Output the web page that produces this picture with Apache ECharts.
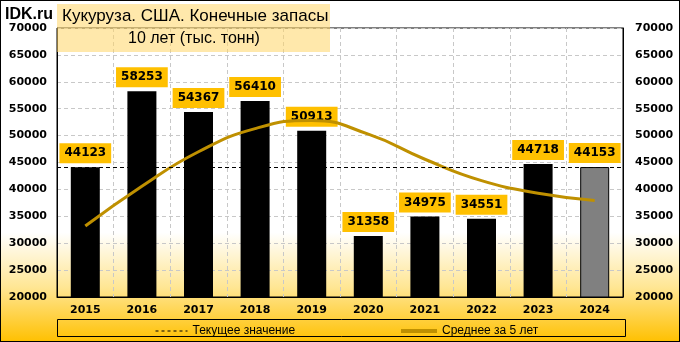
<!DOCTYPE html>
<html><head><meta charset="utf-8">
<script src="https://cdn.jsdelivr.net/npm/echarts@6/dist/echarts.min.js"></script>
<style>
html,body{margin:0;padding:0;}
#wrap{position:relative;width:680px;height:342px;background:linear-gradient(180deg,#ffffff 0%,#ffffff 68%,#FFE694 84%,#FFC000 100%);}
#chart{position:absolute;left:0;top:0;width:680px;height:342px;}
#frame{position:absolute;left:0;top:0;width:680px;height:342px;box-sizing:border-box;border:1px solid #000;pointer-events:none;}
</style></head>
<body>
<div id="wrap"><div id="chart"></div><div id="frame"></div></div>
<script>
const years = ['2015','2016','2017','2018','2019','2020','2021','2022','2023','2024'];
const stocks = [44123, 58253, 54367, 56410, 50913, 31358, 34975, 34551, 44718, 44153];
const avg5 = [33200, 40600, 47000, 51300, 52813, 50260, 45605, 41641, 39303, 37951];
const currentValue = 44153;
const titleLine1 = 'Кукуруза. США. Конечные запасы';
const titleLine2 = '10 лет (тыс. тонн)';
const brand = 'IDK.ru';
const nameCurrent = 'Текущее значение';
const nameAvg = 'Среднее за 5 лет';

const chart = echarts.init(document.getElementById('chart'), null, {renderer:'canvas'});
const axisFont = {fontFamily:'DejaVu Sans', fontWeight:'bold', fontSize:11, color:'#000', formatter:(v)=>String(v)};
const barData = stocks.map((v,i)=> i===stocks.length-1 ? {value:v, itemStyle:{color:'#808080', borderColor:'#000', borderWidth:1}} : v);

chart.setOption({
  animation:false,
  grid:{left:57, right:57, top:28, bottom:45, show:true, borderColor:'#000', borderWidth:1, backgroundColor:'transparent'},
  xAxis:{type:'category', data:years, boundaryGap:true,
    axisLine:{show:true, lineStyle:{color:'#000'}}, axisTick:{show:false},
    axisLabel:{margin:8, fontFamily:'DejaVu Sans', fontWeight:'bold', fontSize:11, color:'#000'},
    splitLine:{show:true, lineStyle:{color:'#c8c8c8', type:[4,3]}}},
  yAxis:[
    {type:'value', min:20000, max:70000, interval:5000, position:'left',
     axisLine:{show:true, lineStyle:{color:'#000'}}, axisTick:{show:false},
     axisLabel:Object.assign({margin:10}, axisFont),
     splitLine:{show:true, lineStyle:{color:'#c8c8c8', type:[4,3]}}},
    {type:'value', min:20000, max:70000, interval:5000, position:'right',
     axisLine:{show:true, lineStyle:{color:'#000'}}, axisTick:{show:false},
     axisLabel:Object.assign({margin:12}, axisFont),
     splitLine:{show:false}}
  ],
  legend:[
    {left:150, top:320, itemWidth:32, itemHeight:10, data:[nameCurrent],
     itemStyle:{opacity:0}, lineStyle:{type:[3,3], width:1},
     textStyle:{fontFamily:'Liberation Sans', fontSize:12, color:'#000'}},
    {left:394, top:320, itemWidth:36, itemHeight:10, data:[nameAvg],
     itemStyle:{opacity:0}, lineStyle:{width:4},
     textStyle:{fontFamily:'Liberation Sans', fontSize:12, color:'#000'}}
  ],
  graphic:[
    {type:'rect', left:57, top:319, shape:{width:568, height:17}, style:{fill:'transparent', stroke:'#000', lineWidth:1}, z:0},
    {type:'rect', left:57, top:4, shape:{width:273, height:48}, style:{fill:'rgba(255,214,102,0.55)'}, z:1},
    {type:'text', left:62, top:8, style:{text:titleLine1, font:'17px "Liberation Sans"', fill:'#000'}, z:2},
    {type:'text', left:128, top:31, style:{text:titleLine2, font:'16px "Liberation Sans"', fill:'#000'}, z:2},
    {type:'text', left:5, top:7, style:{text:brand, font:'bold 16px "Liberation Sans"', fill:'#000'}, z:3}
  ],
  series:[
    {name:'Запасы', type:'bar', data:barData, barWidth:29, itemStyle:{color:'#000'}, z:2,
     label:{show:true, position:'top', distance:4, backgroundColor:'#FFC000', padding:[3,5,3,5],
       fontFamily:'DejaVu Sans', fontWeight:'bold', fontSize:12, lineHeight:14, color:'#000'}},
    {name:nameCurrent, type:'line', data:[], symbol:'none', lineStyle:{type:[3,3], color:'#000', width:1}, itemStyle:{color:'#000'},
     markLine:{symbol:'none', silent:true, label:{show:false}, lineStyle:{type:[4,3], color:'#000', width:1},
       data:[{yAxis:currentValue}]}, z:3},
    {name:nameAvg, type:'line', data:avg5, smooth:true, symbol:'none', lineStyle:{color:'#BF9000', width:3}, itemStyle:{color:'#BF9000'}, z:4}
  ]
});
</script>
</body></html>
